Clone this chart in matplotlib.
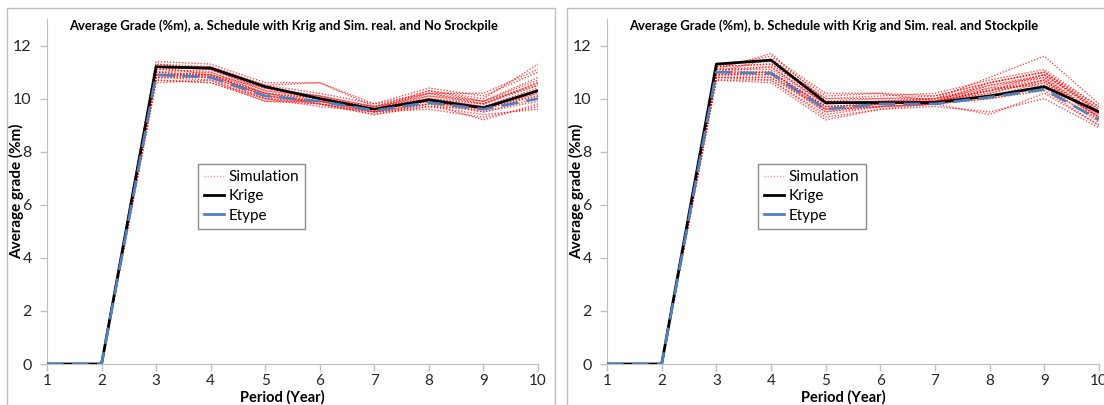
import matplotlib.pyplot as plt
from matplotlib.lines import Line2D
from matplotlib.patches import Rectangle

plt.rcParams['font.family'] = ['Lato', 'DejaVu Sans']

periods = [1, 2, 3, 4, 5, 6, 7, 8, 9, 10]

# panel a: no stockpile
krige_a = [0, 0, 11.2, 11.15, 10.45, 10.0, 9.6, 9.95, 9.65, 10.3]
etype_a = [0, 0, 10.9, 10.8, 10.1, 9.9, 9.55, 9.85, 9.6, 10.0]
sims_a = [
    [0, 0, 11.0, 10.9, 10.2, 10.0, 9.6, 10.0, 9.7, 10.4],
    [0, 0, 10.8, 10.7, 10.0, 9.9, 9.5, 9.8, 9.5, 10.0],
    [0, 0, 11.2, 11.1, 10.4, 10.1, 9.7, 10.2, 9.9, 10.8],
    [0, 0, 10.9, 10.9, 10.1, 9.8, 9.5, 9.6, 9.3, 9.7],
    [0, 0, 11.4, 11.3, 10.6, 10.6, 9.7, 10.3, 10.0, 11.3],
    [0, 0, 10.7, 10.6, 9.9, 9.8, 9.4, 9.7, 9.4, 9.6],
    [0, 0, 11.1, 11.0, 10.3, 10.0, 9.6, 10.1, 9.8, 10.6],
    [0, 0, 10.9, 10.8, 10.1, 9.9, 9.6, 9.9, 9.6, 10.2],
    [0, 0, 11.3, 11.2, 10.5, 10.2, 9.8, 10.4, 10.1, 11.0],
    [0, 0, 10.8, 10.8, 10.0, 9.7, 9.5, 9.8, 9.7, 10.1],
    [0, 0, 11.0, 11.1, 10.3, 10.1, 9.7, 10.0, 9.8, 10.5],
    [0, 0, 10.6, 10.7, 9.9, 9.9, 9.5, 9.9, 9.5, 9.9],
    [0, 0, 11.2, 10.9, 10.4, 10.0, 9.6, 10.3, 9.9, 10.7],
    [0, 0, 10.9, 11.0, 10.2, 9.8, 9.5, 9.7, 9.6, 10.3],
    [0, 0, 11.1, 11.2, 10.5, 10.6, 9.8, 10.2, 10.2, 11.1],
    [0, 0, 10.8, 10.9, 10.1, 9.9, 9.6, 10.0, 9.7, 10.2],
    [0, 0, 11.0, 10.8, 10.2, 10.0, 9.7, 10.1, 9.9, 10.5],
    [0, 0, 10.7, 10.6, 10.0, 9.8, 9.4, 9.8, 9.2, 9.8],
    [0, 0, 11.3, 11.1, 10.4, 10.1, 9.6, 10.2, 9.8, 10.6],
    [0, 0, 10.9, 10.9, 10.2, 9.9, 9.6, 9.9, 9.6, 10.1],
]

# panel b: with stockpile
krige_b = [0, 0, 11.3, 11.45, 9.85, 9.85, 9.85, 10.1, 10.45, 9.5]
etype_b = [0, 0, 11.0, 10.95, 9.6, 9.8, 9.8, 10.05, 10.35, 9.2]
sims_b = [
    [0, 0, 11.0, 11.0, 9.7, 9.8, 9.9, 10.2, 10.7, 9.4],
    [0, 0, 10.8, 10.8, 9.5, 9.7, 9.8, 10.0, 10.4, 9.2],
    [0, 0, 11.2, 11.6, 10.2, 10.2, 10.1, 10.6, 11.0, 9.6],
    [0, 0, 10.9, 10.9, 9.6, 9.8, 9.9, 10.3, 10.8, 9.3],
    [0, 0, 11.1, 11.7, 9.9, 9.8, 10.0, 10.8, 11.6, 9.8],
    [0, 0, 10.7, 10.6, 9.2, 9.6, 9.7, 9.5, 10.0, 8.9],
    [0, 0, 11.0, 11.2, 9.8, 9.9, 10.0, 10.4, 10.9, 9.5],
    [0, 0, 10.9, 11.0, 9.6, 9.7, 9.8, 10.1, 10.6, 9.3],
    [0, 0, 11.3, 11.4, 10.0, 10.1, 10.2, 10.7, 11.1, 9.7],
    [0, 0, 10.8, 10.7, 9.4, 9.7, 9.8, 9.4, 10.2, 9.0],
    [0, 0, 11.1, 11.1, 9.8, 9.9, 9.9, 10.5, 10.8, 9.4],
    [0, 0, 10.9, 10.9, 9.5, 9.8, 9.9, 10.2, 10.7, 9.2],
    [0, 0, 11.2, 11.3, 9.9, 10.0, 10.0, 10.3, 10.9, 9.6],
    [0, 0, 10.8, 10.8, 9.6, 9.7, 9.8, 10.4, 10.5, 9.1],
    [0, 0, 11.0, 11.5, 10.1, 10.2, 9.9, 10.6, 11.0, 9.5],
    [0, 0, 10.9, 11.0, 9.7, 9.8, 9.9, 10.3, 10.7, 9.3],
    [0, 0, 11.1, 11.2, 9.8, 9.9, 10.0, 10.5, 10.9, 9.5],
    [0, 0, 10.7, 10.7, 9.3, 9.6, 9.8, 10.0, 10.3, 9.0],
    [0, 0, 11.2, 11.3, 10.0, 10.0, 10.1, 10.6, 11.0, 9.7],
    [0, 0, 11.0, 11.0, 9.7, 9.8, 9.9, 10.3, 10.6, 9.3],
]

titles = [
    "Average Grade (%m), a. Schedule with Krig and Sim. real. and No Srockpile",
    "Average Grade (%m), b. Schedule with Krig and Sim. real. and Stockpile",
]

W, H = 1104, 405
fig = plt.figure(figsize=(W / 100, H / 100), dpi=100)

# panel frames (pixel coords -> figure fraction)
for x0, x1 in [(7, 555), (567, 1110)]:
    fig.patches.append(Rectangle((x0 / W, -0.02), (x1 - x0) / W, 1 - 8 / H + 0.02,
                                 transform=fig.transFigure, fill=False,
                                 edgecolor='#bfbfbf', linewidth=1))

axes_px = [(47, 538), (607, 1099)]
data = [(krige_a, etype_a, sims_a), (krige_b, etype_b, sims_b)]
grey = '#bfbfbf'

for (px0, px1), (krige, etype, sims), title in zip(axes_px, data, titles):
    ax = fig.add_axes([px0 / W, (H - 364) / H, (px1 - px0) / W, 345 / H])
    for s in sims:
        ax.plot(periods, s, color='red', lw=1.0, ls=(0, (1, 1.2)), alpha=0.7, zorder=2)
    ax.plot(periods, krige, color='black', lw=2, zorder=3)
    ax.plot(periods, etype, color='#4f81bd', lw=2, ls=(0, (6, 3)), zorder=4)

    ax.set_xlim(1, 10)
    ax.set_ylim(0, 13)
    ax.set_xticks(periods)
    ax.set_yticks([0, 2, 4, 6, 8, 10, 12])
    for sp in ['top', 'right']:
        ax.spines[sp].set_visible(False)
    for sp in ['left', 'bottom']:
        ax.spines[sp].set_color(grey)
    ax.tick_params(colors=grey, labelcolor='#262626', labelsize=11.5, length=5, width=1)
    ax.tick_params(axis='y', pad=6)
    ax.tick_params(axis='x', labelsize=11, pad=2)

    ax.set_ylabel("Average grade (%m)", fontsize=11, fontweight='bold')
    ax.yaxis.set_label_coords(-0.046, 0.5)
    ax.set_xlabel("Period (Year)", fontsize=10.5, fontweight='bold')
    ax.xaxis.set_label_coords(0.48, -0.076)

    ax.text(0.045, 0.982, title, transform=ax.transAxes, fontsize=9.4, fontweight='bold',
            ha='left', va='center')

    handles = [
        Line2D([], [], color='red', lw=1, ls=(0, (1, 1.2)), alpha=0.4),
        Line2D([], [], color='black', lw=2),
        Line2D([], [], color='#4f81bd', lw=2),
    ]
    leg = ax.legend(handles, ['Simulation', 'Krige', 'Etype'], loc='upper left',
                    bbox_to_anchor=(0.3075, 0.58), borderaxespad=0, fontsize=11,
                    fancybox=False, framealpha=1, edgecolor='#8c8c8c',
                    handlelength=1.3, handletextpad=0.3, labelspacing=0.35,
                    borderpad=0.4)
    leg.get_frame().set_linewidth(1)

fig.savefig('out.png', dpi=100)
